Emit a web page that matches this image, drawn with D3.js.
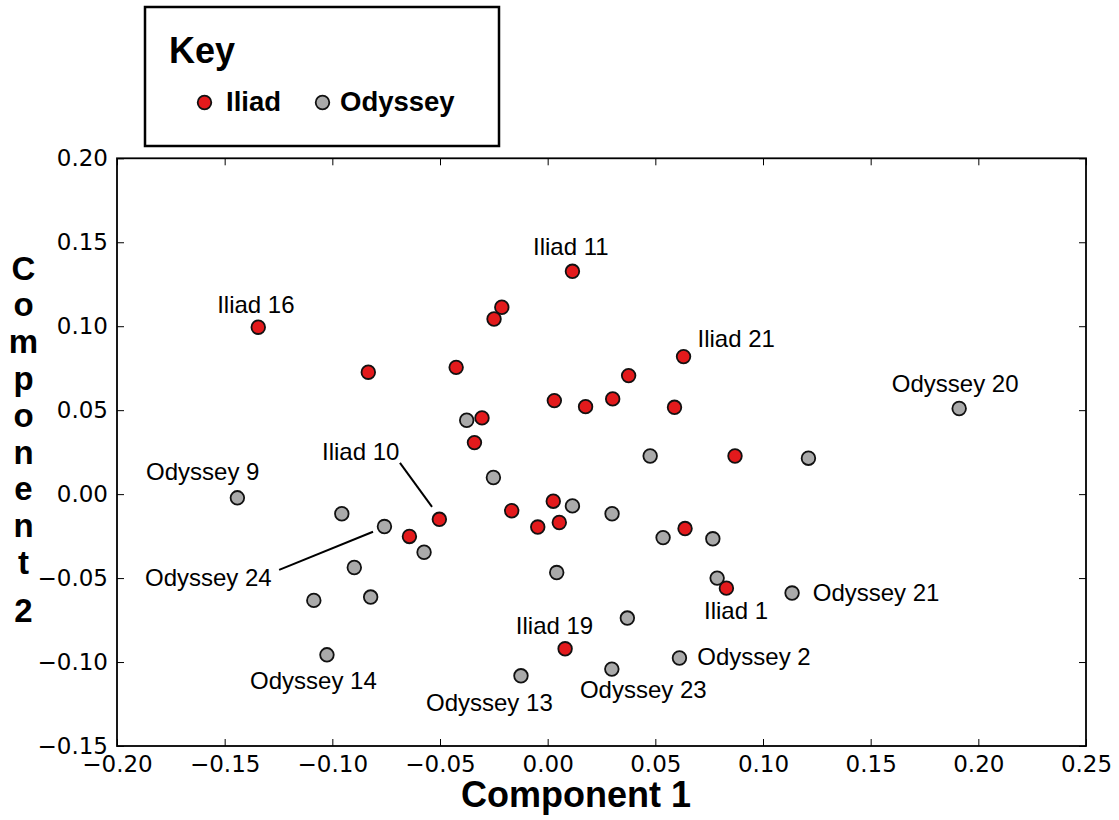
<!DOCTYPE html>
<html>
<head>
<meta charset="utf-8">
<script src="https://cdn.jsdelivr.net/npm/d3@7"></script>
<style>
  html, body { margin: 0; padding: 0; background: #ffffff; }
  svg { display: block; }
</style>
</head>
<body>
<svg id="chart" width="1119" height="820"></svg>
<script>
// ---------------- data ----------------
const iliadX = [0.0115, -0.0213, -0.0249, -0.1344, -0.0833, -0.0425, 0.0631, 0.0376, 0.0031, 0.0176, 0.0302, 0.0589,
                -0.0305, -0.0340, 0.0870, -0.0503, -0.0167, 0.0026, -0.0046, 0.0054, 0.0638, 0.0830, -0.0642, 0.0081];
const iliadY = [0.1327, 0.1113, 0.1043, 0.0994, 0.0726, 0.0755, 0.0819, 0.0706, 0.0557, 0.0521, 0.0567, 0.0517,
                0.0454, 0.0307, 0.0227, -0.0150, -0.0099, -0.0042, -0.0196, -0.0169, -0.0205, -0.0560, -0.0252, -0.0921];

const odysseyX = [-0.0376, -0.0252, -0.1441, 0.1911, 0.0476, 0.1211, 0.0115, 0.0299, 0.0536, 0.0767, 0.0042, 0.0787,
                  -0.0574, -0.0956, -0.0758, -0.0898, -0.1086, -0.0822, -0.1025, -0.0124, 0.1135, 0.0370, 0.0612, 0.0298];
const odysseyY = [0.0440, 0.0099, -0.0022, 0.0510, 0.0227, 0.0214, -0.0070, -0.0117, -0.0259, -0.0266, -0.0467, -0.0500,
                  -0.0346, -0.0117, -0.0193, -0.0437, -0.0633, -0.0613, -0.0957, -0.1082, -0.0589, -0.0738, -0.0976, -0.1042];

const xTicks = [-0.20, -0.15, -0.10, -0.05, 0.00, 0.05, 0.10, 0.15, 0.20, 0.25];
const yTicks = [-0.15, -0.10, -0.05, 0.00, 0.05, 0.10, 0.15, 0.20];

// annotation texts (text start / baseline in data coordinates)
const labelText = ["Iliad 11", "Iliad 16", "Iliad 21", "Odyssey 20", "Odyssey 9", "Iliad 10", "Odyssey 24",
                   "Odyssey 14", "Iliad 19", "Odyssey 13", "Odyssey 21", "Iliad 1", "Odyssey 2", "Odyssey 23"];
const labelX = [-0.0068, -0.1535, 0.0696, 0.1598, -0.1865, -0.1048, -0.1870, -0.1382, -0.0148, -0.0565, 0.1231, 0.0726, 0.0695, 0.0150];
const labelY = [0.1424, 0.1079, 0.0877, 0.0611, 0.0085, 0.0204, -0.0546, -0.1161, -0.0833, -0.1294, -0.0639, -0.0744, -0.1016, -0.1214];

// leader lines (data coordinates)
const leaderX1 = [-0.0686, -0.1247];
const leaderY1 = [0.0186, -0.0451];
const leaderX2 = [-0.0537, -0.0811];
const leaderY2 = [-0.0076, -0.0224];

const seriesNames = ["Iliad", "Odyssey"];
const xTitle = "Component 1";
const yTitle = "Component 2";
const legendTitle = "Key";

// ---------------- layout ----------------
const svg = d3.select("#chart");
const plot = { left: 117, right: 1086, top: 158.3, bottom: 746 };
const RED = "#e31a1c", GREY = "#aaaaaa";
const tickFont = "'DejaVu Sans', sans-serif";
const textFont = "'Liberation Sans', Arial, Helvetica, sans-serif";

const x = d3.scaleLinear().domain([-0.20, 0.25]).range([plot.left, plot.right]);
const y = d3.scaleLinear().domain([-0.15, 0.20]).range([plot.bottom, plot.top]);
const fmt = d3.format(".2f");

function styleAxis(g, showText) {
  g.select(".domain").remove();
  g.selectAll(".tick line").attr("stroke", "#000").attr("stroke-width", 1);
  g.selectAll(".tick text")
    .attr("fill", "#000")
    .style("font-family", tickFont)
    .style("font-size", "23px");
  if (!showText) g.selectAll(".tick text").remove();
}

// bottom axis
svg.append("g")
  .attr("transform", `translate(0,${plot.bottom})`)
  .call(d3.axisBottom(x).tickValues(xTicks).tickFormat(fmt).tickSizeInner(-7).tickSizeOuter(0).tickPadding(10))
  .call(g => styleAxis(g, true));
// top axis
svg.append("g")
  .attr("transform", `translate(0,${plot.top})`)
  .call(d3.axisTop(x).tickValues(xTicks).tickSizeInner(-7).tickSizeOuter(0))
  .call(g => styleAxis(g, false));
// left axis
svg.append("g")
  .attr("transform", `translate(${plot.left},0)`)
  .call(d3.axisLeft(y).tickValues(yTicks).tickFormat(fmt).tickSizeInner(-7).tickSizeOuter(0).tickPadding(9))
  .call(g => styleAxis(g, true));
// right axis
svg.append("g")
  .attr("transform", `translate(${plot.right},0)`)
  .call(d3.axisRight(y).tickValues(yTicks).tickSizeInner(-7).tickSizeOuter(0))
  .call(g => styleAxis(g, false));

// frame
svg.append("rect")
  .attr("x", plot.left).attr("y", plot.top)
  .attr("width", plot.right - plot.left).attr("height", plot.bottom - plot.top)
  .attr("fill", "none").attr("stroke", "#000").attr("stroke-width", 1.8);

// leader lines
svg.append("g").selectAll("line")
  .data(d3.range(leaderX1.length))
  .join("line")
  .attr("x1", i => x(leaderX1[i])).attr("y1", i => y(leaderY1[i]))
  .attr("x2", i => x(leaderX2[i])).attr("y2", i => y(leaderY2[i]))
  .attr("stroke", "#000").attr("stroke-width", 2);

// points: Odyssey first, Iliad on top
const odyssey = odysseyX.map((v, i) => ({ x: v, y: odysseyY[i] }));
const iliad = iliadX.map((v, i) => ({ x: v, y: iliadY[i] }));

svg.append("g").selectAll("circle")
  .data(odyssey).join("circle")
  .attr("cx", d => x(d.x)).attr("cy", d => y(d.y)).attr("r", 6.8)
  .attr("fill", GREY).attr("stroke", "#111").attr("stroke-width", 1.8);

svg.append("g").selectAll("circle")
  .data(iliad).join("circle")
  .attr("cx", d => x(d.x)).attr("cy", d => y(d.y)).attr("r", 6.8)
  .attr("fill", RED).attr("stroke", "#111").attr("stroke-width", 1.8);

// point labels
svg.append("g").selectAll("text")
  .data(labelText).join("text")
  .attr("x", (d, i) => x(labelX[i]))
  .attr("y", (d, i) => y(labelY[i]))
  .attr("text-anchor", "start")
  .style("font-family", textFont)
  .style("font-size", "24px")
  .attr("fill", "#000")
  .text(d => d);

// x title
svg.append("text")
  .attr("x", 576).attr("y", 807)
  .attr("text-anchor", "middle")
  .style("font-family", textFont).style("font-size", "36px").style("font-weight", "bold")
  .text(xTitle);

// y title: stacked letters
const yChars = yTitle.replace(" ", "").split("");
const yt = svg.append("text")
  .attr("text-anchor", "middle")
  .style("font-family", textFont).style("font-size", "33px").style("font-weight", "bold");
yChars.forEach((c, i) => {
  const base = 279.5 + i * 36.8 + (i === yChars.length - 1 ? 11 : 0);
  yt.append("tspan").attr("x", 23.5).attr("y", base).text(c);
});

// legend
const lg = svg.append("g");
lg.append("rect")
  .attr("x", 145).attr("y", 7).attr("width", 354).attr("height", 139)
  .attr("fill", "#fff").attr("stroke", "#000").attr("stroke-width", 2.5);
lg.append("text")
  .attr("x", 169).attr("y", 63)
  .style("font-family", textFont).style("font-size", "36px").style("font-weight", "bold")
  .text(legendTitle);
const legendItems = [
  { name: seriesNames[0], color: RED, cx: 204.5, tx: 226 },
  { name: seriesNames[1], color: GREY, cx: 322.5, tx: 340 }
];
legendItems.forEach(it => {
  lg.append("circle").attr("cx", it.cx).attr("cy", 102.5).attr("r", 6.8)
    .attr("fill", it.color).attr("stroke", "#111").attr("stroke-width", 1.8);
  lg.append("text").attr("x", it.tx).attr("y", 111)
    .style("font-family", textFont).style("font-size", "27.5px").style("font-weight", "bold")
    .text(it.name);
});
</script>
</body>
</html>
